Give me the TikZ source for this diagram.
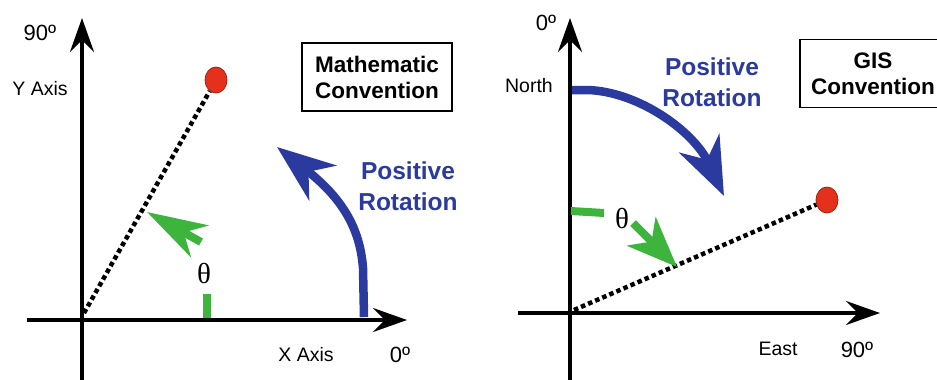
\documentclass[tikz,border=0pt]{standalone}
\usepackage{fontspec}
\setmainfont{Liberation Sans}
\newfontfamily\thetafont{Liberation Serif}
\usetikzlibrary{arrows.meta,shapes.geometric}
\definecolor{rotblue}{HTML}{2B3A9E}
\definecolor{anggreen}{HTML}{3DB53D}
\definecolor{dotred}{HTML}{E5301C}
\tikzset{
  axisline/.style={line width=3.8pt, -{Stealth[length=34pt,width=24pt,inset=12pt]}},
  rotarrow/.style={draw=rotblue, line width=8.5pt, -{Stealth[length=58pt,width=44pt,inset=18pt]}},
  angarrow/.style={draw=anggreen, line width=8pt, -{Stealth[length=60pt,width=36pt,inset=18pt]}},
  angbar/.style={draw=anggreen, line width=8pt},
  rayline/.style={line width=4.5pt, dash pattern=on 4.5pt off 3.2pt},
  lbl/.style={font=\fontsize{19.5}{22}\selectfont, inner sep=0pt},
  deglbl/.style={font=\fontsize{22}{24}\selectfont, inner sep=0pt},
  thetalbl/.style={font=\thetafont\fontsize{29}{30}\selectfont, inner sep=0pt},
  bluelbl/.style={text=rotblue, font=\bfseries\fontsize{24.5}{31}\selectfont, align=center, inner sep=0pt},
  convbox/.style={draw, line width=1.2pt, font=\bfseries\fontsize{22.5}{26}\selectfont, align=center, minimum height=68pt, inner sep=0pt},
  reddot/.style={fill=dotred, draw=dotred!70!black, line width=0.8pt, ellipse, minimum width=22pt, minimum height=26pt, inner sep=0pt},
}
\begin{document}
\begin{tikzpicture}[x=1pt,y=-1pt]
\clip (0,0) rectangle (937,380);
\fill[white] (0,0) rectangle (937,380);
% ---------- left panel ----------
\coordinate (LYb) at (82,380);
\coordinate (LYt) at (82,18);
\coordinate (LXl) at (27,320);
\coordinate (LXr) at (407,320);
\coordinate (LO) at (84,313);
\draw[axisline] (LYb) -- (LYt);
\draw[axisline] (LXl) -- (LXr);
\node[reddot] (Ldot) at (216,80) {};
\draw[rayline] (LO) -- (Ldot);
\node[deglbl] (L90) at (40,33) {90º};
\node[lbl] (LY) at (40,89) {Y Axis};
\node[lbl] (LX) at (306,355) {X Axis};
\node[deglbl] (L0) at (400,355) {0º};
\node[convbox, minimum width=150pt] (Lbox) at (377,77) {Mathematic\\Convention};
\node[bluelbl] (Lpos) at (408,186) {Positive\\Rotation};
\coordinate (Lb1) at (364,317);
\coordinate (Lb2) at (363,268);
\coordinate (Lb3) at (277,147);
\draw[rotarrow] (Lb1) -- (Lb2) .. controls (360,228) and (342,198) .. (Lb3);
\coordinate (Lg1) at (207,318);
\coordinate (Lg2) at (207,294);
\draw[angbar] (Lg1) -- (Lg2);
\node[thetalbl] (Lth) at (204,273) {θ};
\coordinate (Lg3) at (201,242);
\coordinate (Lg4) at (147,212);
\draw[angarrow] (Lg3) -- (Lg4);
% ---------- right panel ----------
\coordinate (RYb) at (570,380);
\coordinate (RYt) at (570,18);
\coordinate (RXl) at (518,313);
\coordinate (RXr) at (880,313);
\coordinate (RO) at (574,310);
\draw[axisline] (RYb) -- (RYt);
\draw[axisline] (RXl) -- (RXr);
\node[reddot] (Rdot) at (827,200) {};
\draw[rayline] (RO) -- (Rdot);
\node[deglbl] (R0) at (546,23) {0º};
\node[lbl] (RN) at (529,86) {North};
\node[lbl] (RE) at (778,349) {East};
\node[deglbl] (R90) at (857,350) {90º};
\node[convbox, minimum width=146pt] (Rbox) at (873,73.5) {GIS\\Convention};
\node[bluelbl] (Rpos) at (712,82) {Positive\\Rotation};
\coordinate (Rb1) at (572,90);
\coordinate (Rb2) at (588,90);
\coordinate (Rb3) at (724,196);
\draw[rotarrow] (Rb1) -- (Rb2) .. controls (640,92) and (694,132) .. (Rb3);
\coordinate (Rg1) at (571,211);
\coordinate (Rg2) at (604,213);
\draw[angbar] (Rg1) -- (Rg2);
\node[thetalbl] (Rth) at (622,219) {θ};
\coordinate (Rg3) at (633,223);
\coordinate (Rg4) at (677,267);
\draw[angarrow, -{Stealth[length=50pt,width=40pt,inset=14pt]}] (Rg3) -- (Rg4);
\end{tikzpicture}
\end{document}
